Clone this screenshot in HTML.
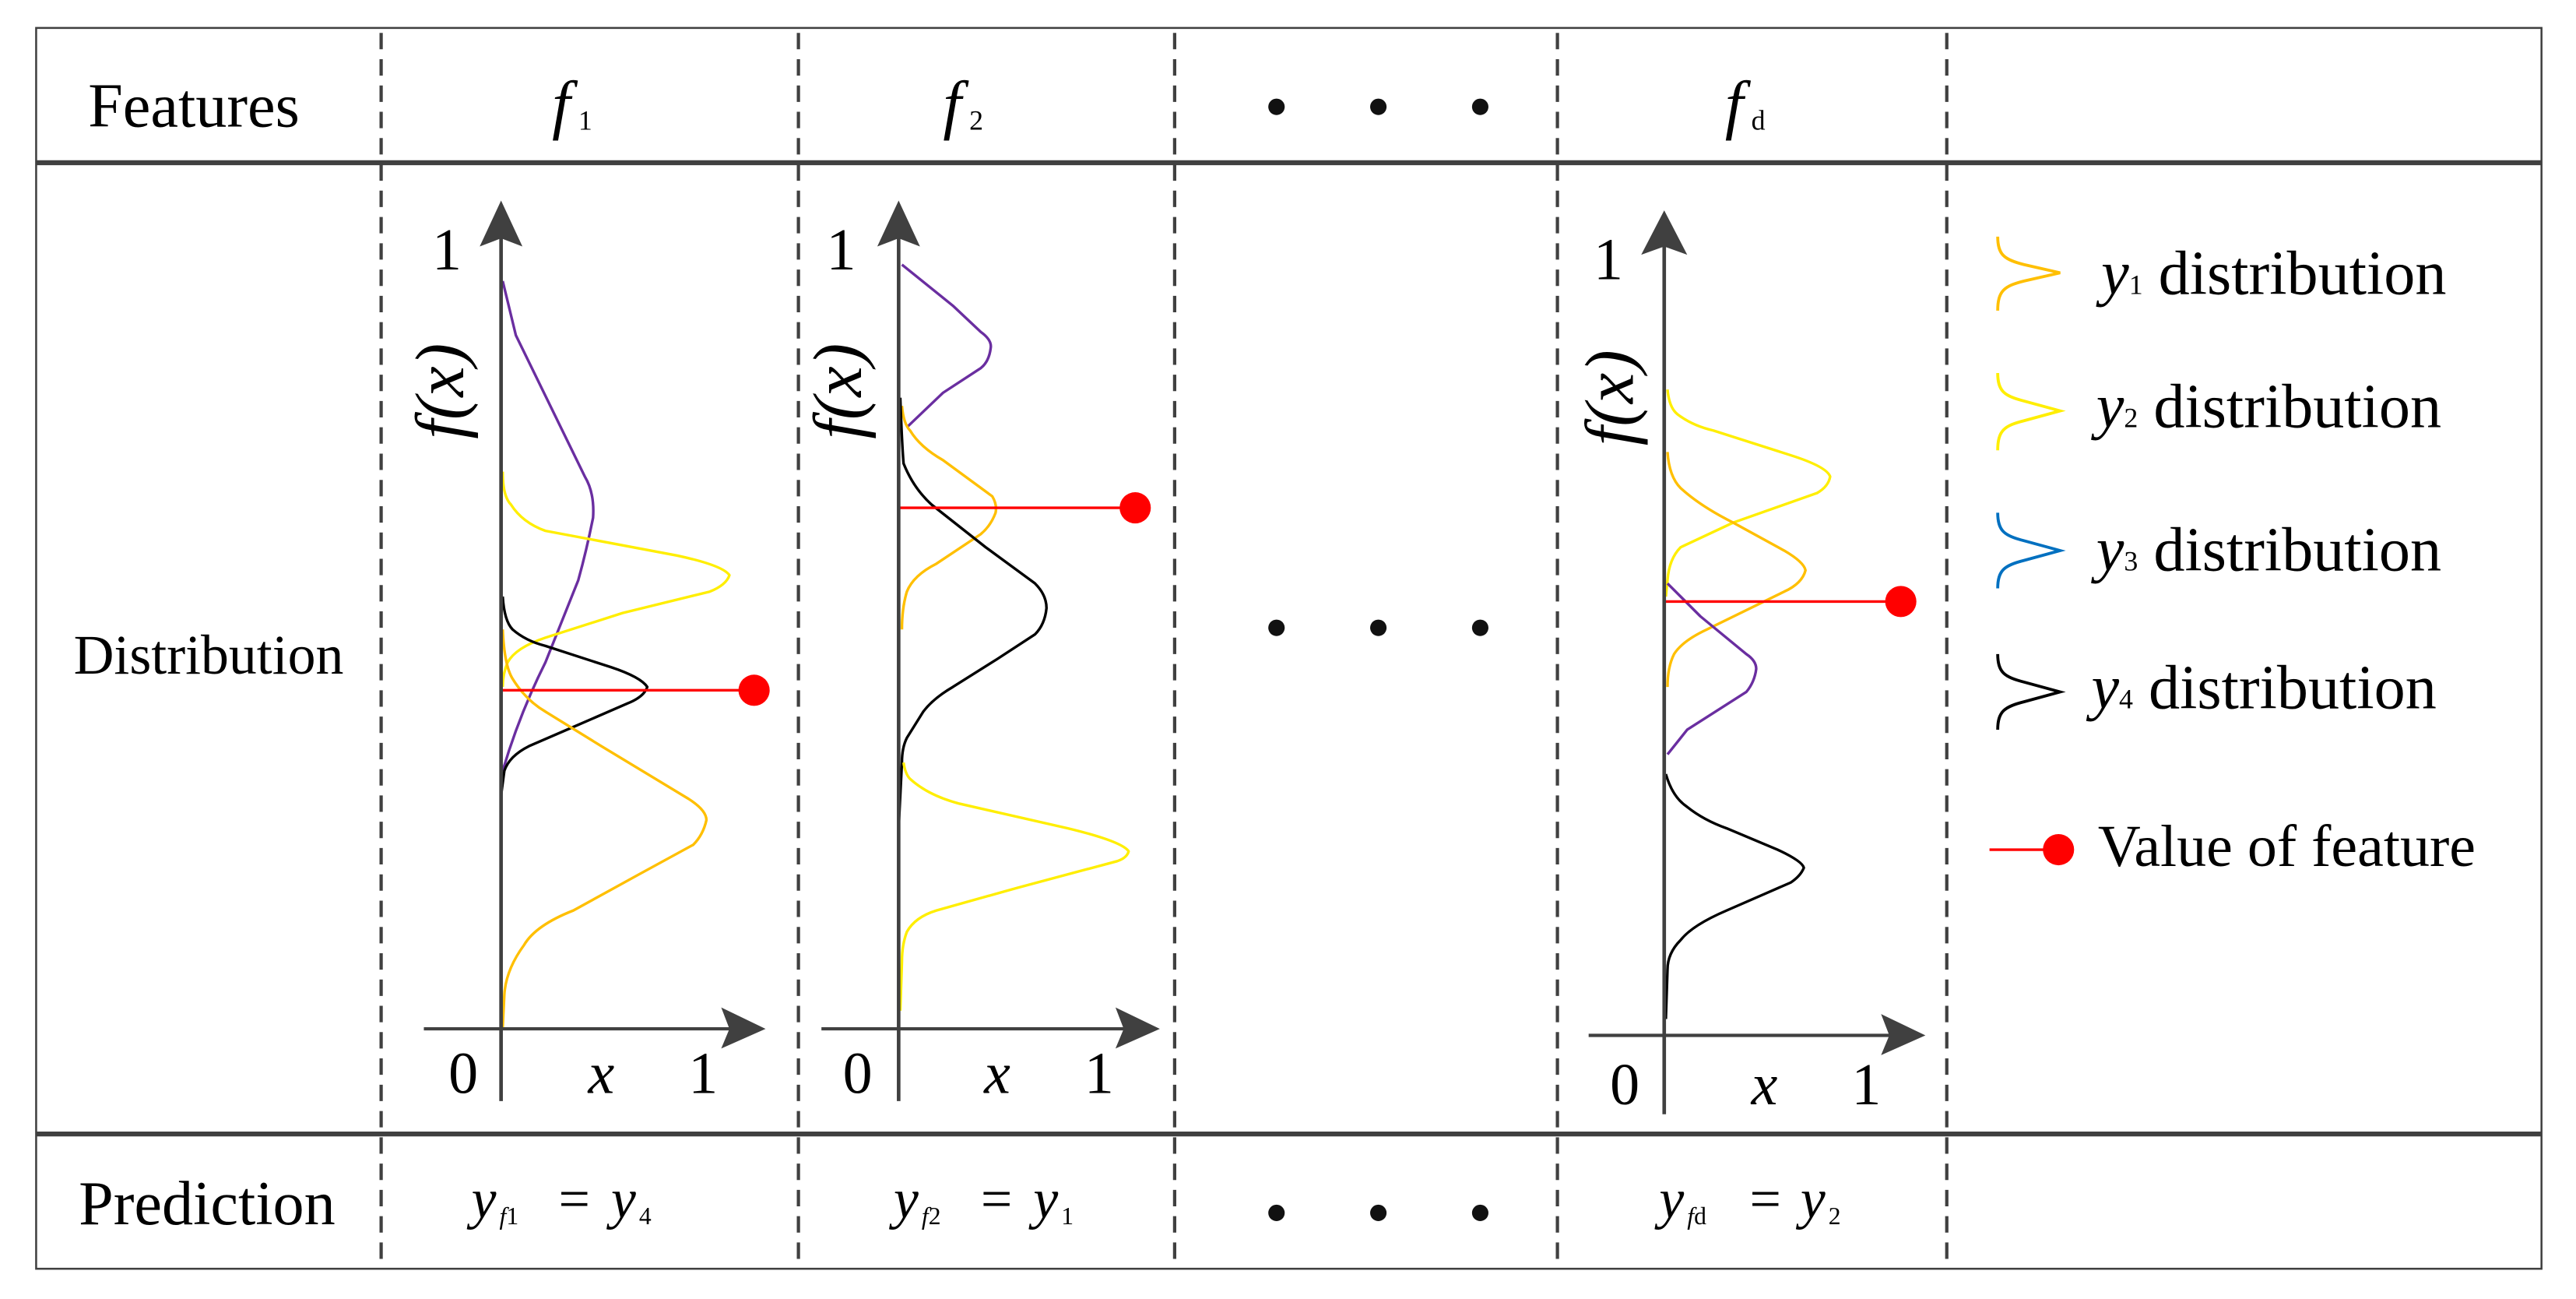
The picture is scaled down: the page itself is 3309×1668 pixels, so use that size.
<!DOCTYPE html>
<html><head><meta charset="utf-8"><style>
html,body{margin:0;padding:0;background:#fff;}
svg{display:block;font-family:"Liberation Serif","DejaVu Serif",serif;}
svg text{font-family:"Liberation Serif","DejaVu Serif",serif;fill:#000;}
.it{font-style:italic;}
</style></head><body>
<svg width="3309" height="1668" viewBox="0 0 1568 790.4" preserveAspectRatio="none" xmlns="http://www.w3.org/2000/svg" font-family="Liberation Serif, DejaVu Serif, serif">
<rect x="0" y="0" width="1568" height="790.4" fill="#fff"/>
<rect x="22" y="17" width="1525" height="755" fill="none" stroke="#404040" stroke-width="1.2"/>
<line x1="22" y1="99" x2="1547" y2="99" stroke="#404040" stroke-width="3"/>
<line x1="22" y1="690" x2="1547" y2="690" stroke="#404040" stroke-width="3"/>
<g stroke="#404040" stroke-width="2" stroke-dasharray="10,6">
<line x1="232" y1="20" x2="232" y2="772"/>
<line x1="486" y1="20" x2="486" y2="772"/>
<line x1="715" y1="20" x2="715" y2="772"/>
<line x1="948" y1="20" x2="948" y2="772"/>
<line x1="1185" y1="20" x2="1185" y2="772"/>
</g>
<g font-family="Liberation Serif, DejaVu Serif, serif">
<text x="118" y="77" font-size="38" text-anchor="middle">Features</text>
<text x="127" y="410" font-size="34" text-anchor="middle">Distribution</text>
<text x="126" y="745" font-size="38" text-anchor="middle">Prediction</text>
<text x="336" y="77" font-size="40" class="it">f</text><text x="352" y="79" font-size="17">1</text>
<text x="574" y="77" font-size="40" class="it">f</text><text x="590" y="79" font-size="17">2</text>
<text x="1050" y="77" font-size="40" class="it">f</text><text x="1066" y="79" font-size="17">d</text>
<text x="287" y="741" font-size="34" class="it">y</text><text x="304" y="745" font-size="15"><tspan class="it">f</tspan>1</text>
<text x="340" y="741" font-size="34">=</text><text x="372" y="741" font-size="34" class="it">y</text><text x="389" y="745" font-size="15">4</text>
<text x="544" y="741" font-size="34" class="it">y</text><text x="561" y="745" font-size="15"><tspan class="it">f</tspan>2</text>
<text x="597" y="741" font-size="34">=</text><text x="629" y="741" font-size="34" class="it">y</text><text x="646" y="745" font-size="15">1</text>
<text x="1010" y="741" font-size="34" class="it">y</text><text x="1027" y="745" font-size="15"><tspan class="it">f</tspan>d</text>
<text x="1065" y="741" font-size="34">=</text><text x="1096" y="741" font-size="34" class="it">y</text><text x="1113" y="745" font-size="15">2</text>
</g>
<g fill="#111">
<circle cx="777" cy="65" r="5"/><circle cx="839" cy="65" r="5"/><circle cx="901" cy="65" r="5"/>
<circle cx="777" cy="382" r="5"/><circle cx="839" cy="382" r="5"/><circle cx="901" cy="382" r="5"/>
<circle cx="777" cy="738" r="5"/><circle cx="839" cy="738" r="5"/><circle cx="901" cy="738" r="5"/>
</g>

<!-- PLOT 1 -->
<g fill="none" stroke-width="1.6" stroke-linejoin="round">
<path stroke="#6a2ea0" d="M306,171 L314,204 L356,290 Q362,300 361,315 Q357,335 352,353 Q342,378 332,403 Q316,435 306,469"/>
<path stroke="#ffee00" d="M306,287 Q306,302 311,307 Q318,318 332,323 L412,338 Q440,344 444,350 Q442,356 432,360 L379,373 L332,388 Q314,394 309,403 Q306,410 306,418"/>
<path stroke="#000" d="M306,363 Q307,378 312,383 Q320,390 332,393 L372,406 Q390,412 394,418 Q392,424 382,428 L352,441 L322,454 Q310,460 307,469 L305,484"/>
<path stroke="#ffbf00" d="M306,383 Q307,405 312,413 Q320,426 332,433 L366,454 L419,486 Q430,493 430,499 Q428,508 422,514 L389,532 L349,554 Q326,563 319,575 Q308,590 307,605 L306,625"/>
</g>
<line x1="305" y1="420" x2="459" y2="420" stroke="#ff0000" stroke-width="1.6"/>
<circle cx="459" cy="420" r="9.5" fill="#ff0000"/>
<line x1="305" y1="135" x2="305" y2="670" stroke="#404040" stroke-width="2.2"/>
<polygon points="305,122 318,150 305,145 292,150" fill="#404040"/>
<line x1="258" y1="626" x2="450" y2="626" stroke="#404040" stroke-width="2"/>
<polygon points="466,626 439,638 444,626 439,613" fill="#404040"/>
<g font-family="Liberation Serif, DejaVu Serif, serif">
<text x="263" y="164" font-size="36">1</text>
<text x="273" y="665" font-size="36">0</text>
<text x="358" y="665" font-size="36" class="it">x</text>
<text x="419" y="665" font-size="36">1</text>
<text transform="translate(282,238) rotate(-90)" font-size="42" text-anchor="middle" class="it">f(x)</text>
</g>

<!-- PLOT 2 -->
<g fill="none" stroke-width="1.6" stroke-linejoin="round">
<path stroke="#6a2ea0" d="M549,161 L580,186 L597,202 Q604,207 603,212 Q602,220 597,224 L574,239 L552,260"/>
<path stroke="#ffbf00" d="M549,247 Q550,258 554,262 Q560,272 574,280 L604,302 Q607,307 606,312 Q603,320 597,325 L570,343 Q556,350 552,360 Q549,370 549,383"/>
<path stroke="#000" d="M548,242 Q549,270 550,282 Q556,297 567,307 L600,333 L630,355 Q637,362 637,370 Q636,380 630,386 L607,401 L580,418 Q568,425 562,433 L552,449 Q549,455 549,464 L547,504 L547,620"/>
<path stroke="#ffee00" d="M550,464 Q551,471 554,474 Q565,484 584,489 L650,504 Q683,512 687,518 Q686,522 680,524 L620,540 L570,554 Q557,558 552,567 Q549,575 549,585 L548,615"/>
</g>
<line x1="547" y1="309" x2="691" y2="309" stroke="#ff0000" stroke-width="1.6"/>
<circle cx="691" cy="309" r="9.5" fill="#ff0000"/>
<line x1="547" y1="135" x2="547" y2="670" stroke="#404040" stroke-width="2.2"/>
<polygon points="547,122 560,150 547,145 534,150" fill="#404040"/>
<line x1="500" y1="626" x2="690" y2="626" stroke="#404040" stroke-width="2"/>
<polygon points="706,626 679,638 684,626 679,613" fill="#404040"/>
<g font-family="Liberation Serif, DejaVu Serif, serif">
<text x="503" y="164" font-size="36">1</text>
<text x="513" y="665" font-size="36">0</text>
<text x="599" y="665" font-size="36" class="it">x</text>
<text x="660" y="665" font-size="36">1</text>
<text transform="translate(524,238) rotate(-90)" font-size="42" text-anchor="middle" class="it">f(x)</text>
</g>

<!-- PLOT d -->
<g fill="none" stroke-width="1.6" stroke-linejoin="round">
<path stroke="#ffee00" d="M1015,237 Q1016,248 1021,252 Q1030,259 1043,262 L1090,277 Q1112,284 1114,290 Q1113,296 1106,300 L1055,318 L1023,333 Q1016,340 1015,353 L1014,363"/>
<path stroke="#ffbf00" d="M1015,275 Q1016,290 1023,297 Q1035,308 1055,318 L1086,335 Q1098,342 1099,347 Q1097,355 1086,360 L1039,383 Q1024,390 1019,398 Q1015,406 1015,418"/>
<path stroke="#6a2ea0" d="M1015,355 L1035,375 L1063,398 Q1069,402 1069,407 Q1068,415 1063,421 L1027,444 L1015,459"/>
<path stroke="#000" d="M1014,471 Q1018,485 1027,491 Q1037,499 1051,504 L1082,517 Q1097,524 1098,528 Q1096,533 1090,537 L1051,554 Q1030,563 1023,572 Q1015,580 1015,590 L1014,620"/>
</g>
<line x1="1014" y1="366" x2="1157" y2="366" stroke="#ff0000" stroke-width="1.6"/>
<circle cx="1157" cy="366" r="9.5" fill="#ff0000"/>
<line x1="1013" y1="140" x2="1013" y2="678" stroke="#404040" stroke-width="2.2"/>
<polygon points="1013,128 1027,155 1013,150 999,155" fill="#404040"/>
<line x1="967" y1="630" x2="1158" y2="630" stroke="#404040" stroke-width="2"/>
<polygon points="1172,630 1145,642 1150,630 1145,617" fill="#404040"/>
<g font-family="Liberation Serif, DejaVu Serif, serif">
<text x="970" y="170" font-size="36">1</text>
<text x="980" y="672" font-size="36">0</text>
<text x="1066" y="672" font-size="36" class="it">x</text>
<text x="1127" y="672" font-size="36">1</text>
<text transform="translate(994,242) rotate(-90)" font-size="42" text-anchor="middle" class="it">f(x)</text>
</g>

<!-- legend -->
<g fill="none" stroke-width="1.8">
<path stroke="#ffbf00" d="M1216,144 C1216,155 1220,158 1232,161 L1254,166 L1232,171 C1220,174 1216,177 1216,189"/>
<path stroke="#ffee00" d="M1216,227 C1216,238 1220,241 1232,244 L1254,250 L1232,256 C1220,259 1216,262 1216,274"/>
<path stroke="#0070c0" d="M1216,312 C1216,323 1220,326 1232,329 L1254,335 L1232,341 C1220,344 1216,347 1216,358"/>
<path stroke="#000" d="M1216,398 C1216,409 1220,412 1232,415 L1254,421 L1232,427 C1220,430 1216,433 1216,444"/>
</g>
<g font-family="Liberation Serif, DejaVu Serif, serif">
<text x="1279" y="179" font-size="38"><tspan class="it">y</tspan><tspan font-size="17">1</tspan> distribution</text>
<text x="1276" y="260" font-size="38"><tspan class="it">y</tspan><tspan font-size="17">2</tspan> distribution</text>
<text x="1276" y="347" font-size="38"><tspan class="it">y</tspan><tspan font-size="17">3</tspan> distribution</text>
<text x="1273" y="431" font-size="38"><tspan class="it">y</tspan><tspan font-size="17">4</tspan> distribution</text>
<text x="1277" y="527" font-size="36">Value of feature</text>
</g>
<line x1="1211" y1="517" x2="1250" y2="517" stroke="#ff0000" stroke-width="1.6"/>
<circle cx="1253" cy="517" r="9.5" fill="#ff0000"/>
</svg>
</body></html>
